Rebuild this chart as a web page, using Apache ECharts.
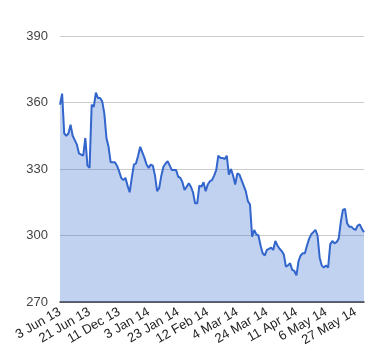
<!DOCTYPE html>
<html><head><meta charset="utf-8">
<script src="https://cdn.jsdelivr.net/npm/echarts@6/dist/echarts.min.js"></script>
<style>html,body{margin:0;padding:0;background:#fff}#c{width:380px;height:360px}</style>
</head><body><div id="c"></div>
<script>
const dates = [
 '3 Jun 13','4 Jun 13','5 Jun 13','6 Jun 13','7 Jun 13','10 Jun 13','11 Jun 13','12 Jun 13','13 Jun 13','14 Jun 13',
 '17 Jun 13','18 Jun 13','19 Jun 13','20 Jun 13','21 Jun 13',
 '21 Nov 13','22 Nov 13','25 Nov 13','26 Nov 13','27 Nov 13','29 Nov 13','2 Dec 13','3 Dec 13','4 Dec 13','5 Dec 13','6 Dec 13','9 Dec 13','10 Dec 13',
 '11 Dec 13','12 Dec 13','13 Dec 13','16 Dec 13','17 Dec 13','18 Dec 13','19 Dec 13','20 Dec 13','23 Dec 13','26 Dec 13','27 Dec 13','30 Dec 13','31 Dec 13','2 Jan 14',
 '3 Jan 14','6 Jan 14','7 Jan 14','8 Jan 14','9 Jan 14','10 Jan 14','13 Jan 14','14 Jan 14','15 Jan 14','16 Jan 14','17 Jan 14','20 Jan 14','21 Jan 14','22 Jan 14',
 '23 Jan 14','24 Jan 14','27 Jan 14','28 Jan 14','29 Jan 14','30 Jan 14','31 Jan 14','3 Feb 14','4 Feb 14','5 Feb 14','6 Feb 14','7 Feb 14','10 Feb 14','11 Feb 14',
 '12 Feb 14','13 Feb 14','14 Feb 14','17 Feb 14','18 Feb 14','19 Feb 14','20 Feb 14','21 Feb 14','24 Feb 14','25 Feb 14','26 Feb 14','27 Feb 14','28 Feb 14','3 Mar 14',
 '4 Mar 14','5 Mar 14','6 Mar 14','7 Mar 14','10 Mar 14','11 Mar 14','12 Mar 14','13 Mar 14','14 Mar 14','17 Mar 14','18 Mar 14','19 Mar 14','20 Mar 14','21 Mar 14',
 '24 Mar 14','25 Mar 14','26 Mar 14','27 Mar 14','28 Mar 14','31 Mar 14','1 Apr 14','2 Apr 14','3 Apr 14','4 Apr 14','7 Apr 14','8 Apr 14','9 Apr 14','10 Apr 14',
 '11 Apr 14','14 Apr 14','15 Apr 14','16 Apr 14','17 Apr 14','22 Apr 14','23 Apr 14','24 Apr 14','25 Apr 14','28 Apr 14','29 Apr 14','30 Apr 14','1 May 14','2 May 14',
 '6 May 14','7 May 14','8 May 14','9 May 14','12 May 14','13 May 14','14 May 14','15 May 14','16 May 14','19 May 14','20 May 14','21 May 14','22 May 14','23 May 14',
 '27 May 14','28 May 14','29 May 14','30 May 14','2 Jun 14'
];
const prices = [
 359,364,346,345,346,350,345,343,341,337,
 336.5,336,344,331.5,330.5,
 359,358,364.5,362,362,360.5,355,344,340,333,333,333,331.5,
 329,326,325,326,322.5,319.5,326,332,332.5,336,340,337.5,335,332,
 330.5,332,331.5,327,320,321.5,327,331,332.5,333.5,331.5,329.5,329.5,329.5,
 326.5,326,324,320.5,322,323.5,322,319.5,314.5,314.5,322.5,322,324,320,
 323,324.5,325,327,329.5,336,335,335,334.5,336,327.5,330,327,323,
 328,327.5,325,322.5,320,315.5,314,299.5,302.5,300.5,300,295.5,292,291,
 293.5,294,294.5,293.5,297.5,295.5,294,293,291.5,286,286.5,287.5,284.5,284,
 282,288.5,291,292,292,295.5,298.5,300.5,301.5,302.5,300,290,286.5,285.5,
 286.5,285.5,296,297.5,296.5,297,298.5,306,311.5,312,305.5,304,304,303,
 302.5,304.5,305,303,301.5
];
const yTicks = {min: 270, max: 390, step: 30};

const chart = echarts.init(document.getElementById('c'), null, {renderer: 'canvas'});
chart.setOption({
  animation: false,
  grid: {left: 60, right: 16, top: 36, bottom: 58, containLabel: false},
  xAxis: {
    type: 'category',
    data: dates,
    boundaryGap: false,
    axisLine: {show: true, lineStyle: {color: '#333', width: 1.5}},
    axisTick: {show: false},
    axisLabel: {
      interval: 13, rotate: 30, margin: 9,
      color: '#222', fontSize: 13, fontFamily: 'Liberation Sans, Arial, sans-serif'
    },
    splitLine: {show: false}
  },
  yAxis: {
    type: 'value',
    min: yTicks.min, max: yTicks.max, interval: yTicks.step,
    axisLine: {show: false},
    axisTick: {show: false},
    axisLabel: {color: '#444', fontSize: 13, margin: 12, fontFamily: 'Liberation Sans, Arial, sans-serif'},
    splitLine: {lineStyle: {color: '#cccccc', width: 1}}
  },
  series: [{
    type: 'line',
    data: prices,
    showSymbol: false,
    symbol: 'none',
    lineStyle: {color: '#3366cc', width: 2},
    areaStyle: {color: '#3366cc', opacity: 0.3},
    z: 3
  }]
});
</script>
</body></html>
